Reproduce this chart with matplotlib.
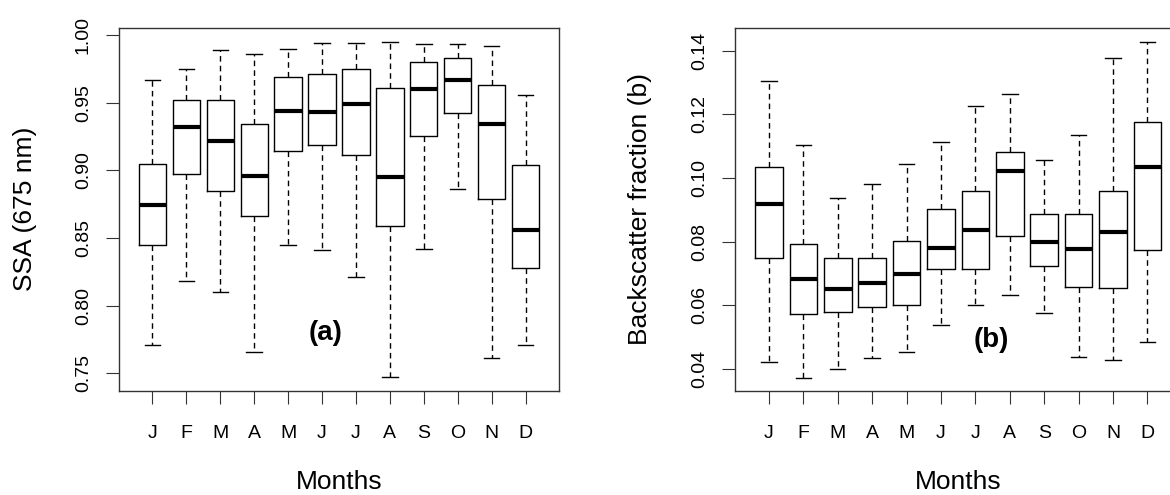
import matplotlib
matplotlib.use("Agg")
import matplotlib.pyplot as plt

plt.rcParams['font.family'] = ['Liberation Sans', 'DejaVu Sans']

months = ["J", "F", "M", "A", "M", "J", "J", "A", "S", "O", "N", "D"]

# panel (a): single scattering albedo at 675 nm
ssa_low = [0.771, 0.818, 0.810, 0.766, 0.845, 0.841, 0.821, 0.747, 0.842, 0.886, 0.761, 0.771]
ssa_q1 = [0.845, 0.897, 0.885, 0.866, 0.914, 0.919, 0.911, 0.859, 0.925, 0.942, 0.879, 0.828]
ssa_med = [0.874, 0.932, 0.922, 0.896, 0.944, 0.943, 0.949, 0.895, 0.960, 0.967, 0.934, 0.856]
ssa_q3 = [0.905, 0.952, 0.952, 0.934, 0.969, 0.971, 0.975, 0.961, 0.980, 0.983, 0.963, 0.904]
ssa_high = [0.967, 0.975, 0.989, 0.986, 0.990, 0.994, 0.994, 0.995, 0.993, 0.993, 0.992, 0.956]

# panel (b): backscatter fraction
bf_low = [0.0421, 0.0372, 0.0401, 0.0434, 0.0452, 0.0539, 0.0602, 0.0631, 0.0575, 0.0437, 0.0427, 0.0484]
bf_q1 = [0.0749, 0.0574, 0.0580, 0.0596, 0.0601, 0.0713, 0.0713, 0.0818, 0.0724, 0.0657, 0.0656, 0.0775]
bf_med = [0.0918, 0.0682, 0.0650, 0.0670, 0.0698, 0.0781, 0.0837, 0.1022, 0.0799, 0.0776, 0.0829, 0.1036]
bf_q3 = [0.1035, 0.0794, 0.0750, 0.0750, 0.0803, 0.0904, 0.0958, 0.1083, 0.0886, 0.0887, 0.0958, 0.1177]
bf_high = [0.1305, 0.1104, 0.0937, 0.0981, 0.1045, 0.1112, 0.1226, 0.1264, 0.1057, 0.1135, 0.1378, 0.1428]


def make_stats(low, q1, med, q3, high):
    return [dict(whislo=a, q1=b, med=c, q3=d, whishi=e)
            for a, b, c, d, e in zip(low, q1, med, q3, high)]


def draw_panel(ax, stats, ylim, yticks, ylabel, tag, tag_xy):
    ax.bxp(stats, positions=range(1, 13), widths=0.8, showfliers=False,
           capwidths=0.45,
           boxprops=dict(color='black', linewidth=1.0),
           medianprops=dict(color='black', linewidth=3.0, solid_capstyle='butt'),
           whiskerprops=dict(color='black', linewidth=1.0, linestyle=(0, (4, 3))),
           capprops=dict(color='black', linewidth=1.0))
    ax.set_xlim(0.02, 12.98)
    ax.set_ylim(*ylim)
    ax.set_xticks(range(1, 13))
    ax.set_xticklabels(months)
    ax.set_yticks(yticks)
    ax.set_yticklabels([f"{t:.2f}" for t in yticks], rotation=90, va='center')
    ax.tick_params(axis='both', direction='out', length=9.5, width=0.8,
                   color='#333333', labelsize=14)
    ax.tick_params(axis='x', pad=15)
    ax.tick_params(axis='y', pad=10)
    for sp in ax.spines.values():
        sp.set_color('#333333')
        sp.set_linewidth(1.0)
    ax.set_ylabel(ylabel, fontsize=19)
    ax.yaxis.label.set_va('center')
    ax.yaxis.set_label_coords(-0.2135, 0.5)
    ax.set_xlabel("Months", fontsize=19)
    ax.xaxis.label.set_va('center')
    ax.xaxis.set_label_coords(0.5, -0.252)
    ax.text(tag_xy[0], tag_xy[1], tag, fontsize=20, fontweight='bold',
            ha='center', va='center')


fig = plt.figure(figsize=(11.7, 4.95), dpi=100)
ax1 = fig.add_axes([119 / 1170, 1 - 390.7 / 495, 440 / 1170, 363 / 495])
ax2 = fig.add_axes([735.2 / 1170, 1 - 390.7 / 495, 446 / 1170, 363 / 495])

draw_panel(ax1, make_stats(ssa_low, ssa_q1, ssa_med, ssa_q3, ssa_high),
           (0.7371, 1.0054), [0.75, 0.80, 0.85, 0.90, 0.95, 1.00],
           "SSA (675 nm)", "(a)", (6.1, 0.7796))
draw_panel(ax2, make_stats(bf_low, bf_q1, bf_med, bf_q3, bf_high),
           (0.0332, 0.1472), [0.04, 0.06, 0.08, 0.10, 0.12, 0.14],
           "Backscatter fraction (b)", "(b)", (7.46, 0.0491))

fig.savefig("out.png", dpi=100)
